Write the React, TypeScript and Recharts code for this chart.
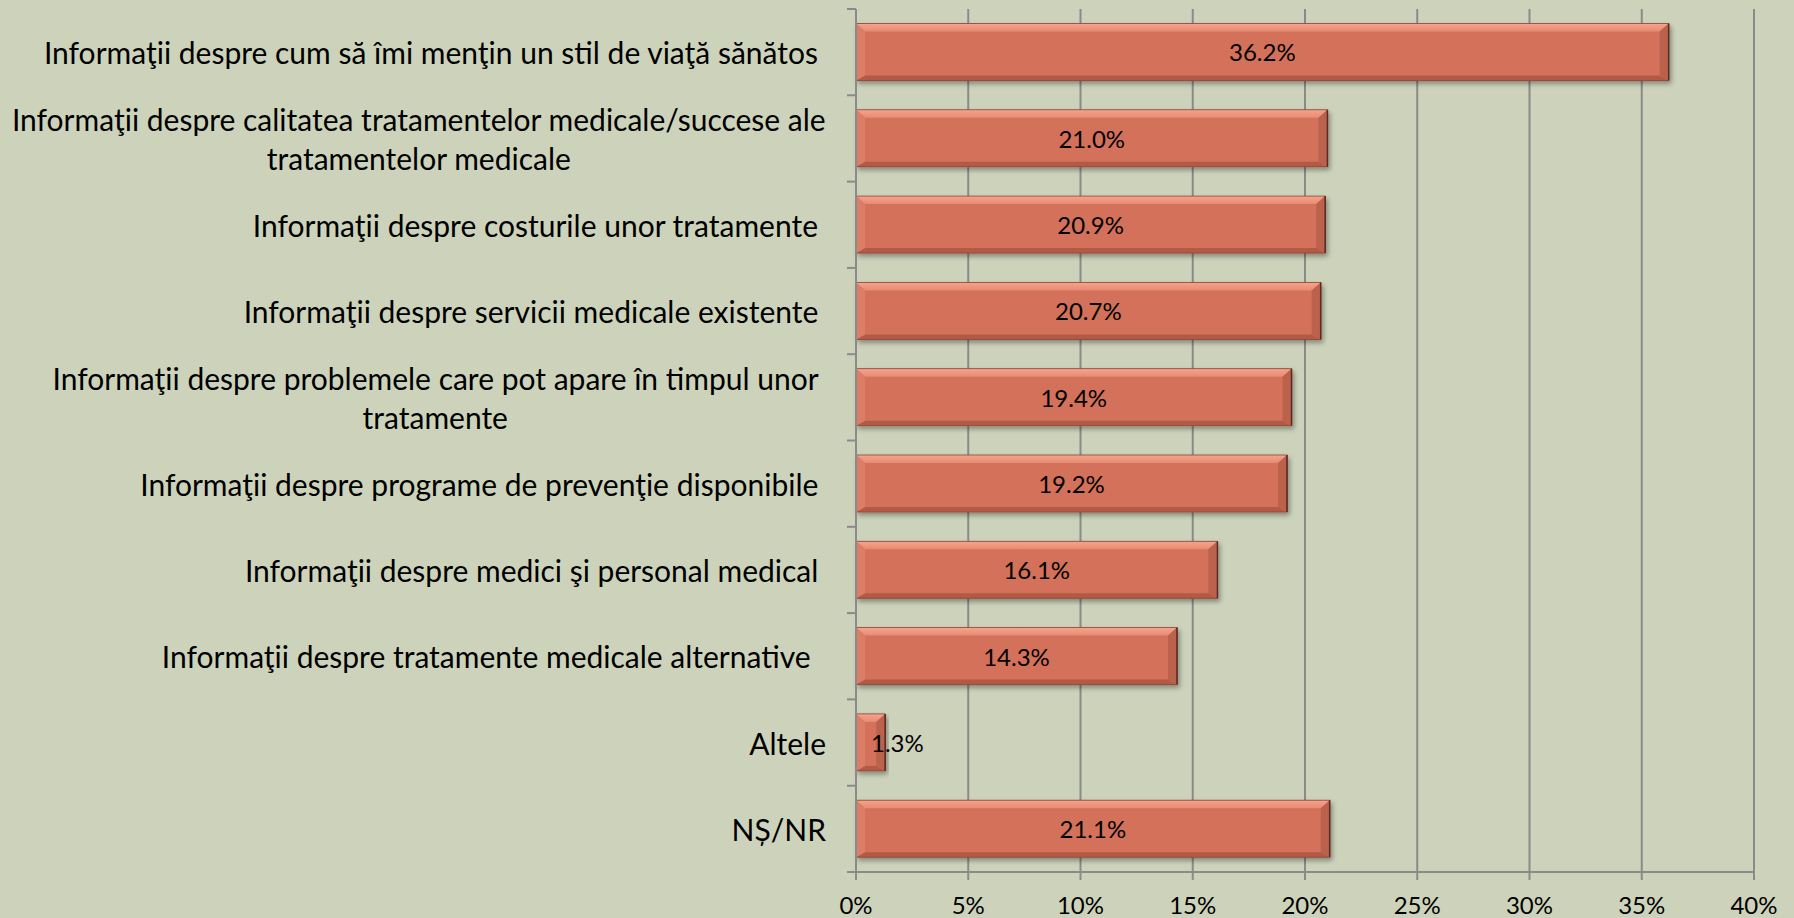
import { Bar, BarChart, CartesianGrid, LabelList, XAxis, YAxis } from "recharts";

const categories = [
  "Informaţii despre cum să îmi menţin un stil de viaţă sănătos ",
  "Informaţii despre calitatea tratamentelor medicale/succese ale\ntratamentelor medicale",
  "Informaţii despre costurile unor tratamente ",
  "Informaţii despre servicii medicale existente ",
  "Informaţii despre problemele care pot apare în timpul unor \ntratamente ",
  "Informaţii despre programe de prevenţie disponibile ",
  "Informaţii despre medici şi personal medical ",
  "Informaţii despre tratamente medicale alternative  ",
  "Altele",
  "NȘ/NR",
];
const shares = [36.2, 21.0, 20.9, 20.7, 19.4, 19.2, 16.1, 14.3, 1.3, 21.1];
const xTicks = [0, 5, 10, 15, 20, 25, 30, 35, 40];

const data = categories.map((name, i) => ({ name, value: shares[i] }));

const W = 1794;
const H = 918;
const MARGIN = { top: 9, right: 40, left: 0, bottom: 0 };
const X_AXIS_H = 46;
const Y_AXIS_W = 856;
const BAND = (H - MARGIN.top - MARGIN.bottom - X_AXIS_H) / categories.length;
const FONT = "Lato, 'Open Sans', sans-serif";
const CAT_SIZE = 30;
const LABEL_SIZE = 24;
const GRID = "#8a8a8a";

const ctx = typeof document !== "undefined" ? document.createElement("canvas").getContext("2d") : null;
function textWidth(s: string, size: number) {
  if (!ctx) return s.length * size * 0.5;
  ctx.font = `${size}px Lato`;
  return ctx.measureText(s).width;
}

function CategoryTick(props: any) {
  const { x, y, payload, index } = props;
  const lines = String(payload.value).split("\n");
  const block = Math.max(...lines.map((l) => textWidth(l, CAT_SIZE)));
  const cx = x - block / 2;
  const lh = 39;
  const y0 = y - ((lines.length - 1) * lh) / 2;
  const axisX = x + 30;
  return (
    <g>
      <line x1={axisX - 9} x2={axisX} y1={y - BAND / 2} y2={y - BAND / 2} stroke={GRID} strokeWidth={2} />
      {index === categories.length - 1 && (
        <line x1={axisX - 9} x2={axisX} y1={y + BAND / 2} y2={y + BAND / 2} stroke={GRID} strokeWidth={2} />
      )}
      {lines.map((l, i) => (
        <text
          key={i}
          x={cx}
          y={y0 + i * lh}
          textAnchor="middle"
          dominantBaseline="central"
          fontFamily={FONT}
          fontSize={CAT_SIZE}
          fill="#000"
          style={{ whiteSpace: "pre" }}
        >
          {l}
        </text>
      ))}
    </g>
  );
}

function BevelBar(props: any) {
  const { x, y, width, height } = props;
  if (!width || width <= 0) return null;
  const bt = Math.min(8, height / 3);
  const bb = Math.min(5, height / 3);
  const bs = Math.min(9, width / 3);
  const r = x + width;
  const b = y + height;
  return (
    <g filter="url(#barShadow)">
      <rect x={x} y={y} width={width} height={height} fill="#d3715a" />
      <polygon points={`${x},${y} ${r},${y} ${r - bs},${y + bt} ${x + bs},${y + bt}`} fill="url(#bevelTop)" />
      <polygon points={`${x},${b} ${r},${b} ${r - bs},${b - bb} ${x + bs},${b - bb}`} fill="#b35a46" />
      <polygon points={`${x},${y} ${x + bs},${y + bt} ${x + bs},${b - bb} ${x},${b}`} fill="#dc7d65" />
      <polygon points={`${r},${y} ${r - bs},${y + bt} ${r - bs},${b - bb} ${r},${b}`} fill="#bb624d" />
      <rect x={x} y={y} width={width} height={height} fill="none" stroke="#8c4636" strokeWidth={0.8} />
      <line x1={r} x2={r} y1={y} y2={b} stroke="#5a2a20" strokeWidth={1.5} />
    </g>
  );
}

function ValueLabel(props: any) {
  const vb = props.viewBox || props;
  const { x, y, width, height } = vb;
  const text = `${Number(props.value).toFixed(1)}%`;
  const w = textWidth(text, LABEL_SIZE);
  const cx = Math.max(x + width / 2, x + 15 + w / 2);
  return (
    <text
      x={cx}
      y={y + height / 2}
      textAnchor="middle"
      dominantBaseline="central"
      fontFamily={FONT}
      fontSize={LABEL_SIZE}
      fill="#000"
    >
      {text}
    </text>
  );
}

export default function App() {
  return (
    <div style={{ width: W, height: H, background: "#cdd3bb" }}>
      <style>{"body{margin:0}"}</style>
      <svg width={0} height={0} style={{ position: "absolute" }}>
        <defs>
          <linearGradient id="bevelTop" x1="0" y1="0" x2="0" y2="1">
            <stop offset="0%" stopColor="#f6a48e" />
            <stop offset="100%" stopColor="#e88a72" />
          </linearGradient>
          <filter id="barShadow" x="-5%" y="-20%" width="115%" height="160%">
            <feDropShadow dx={2} dy={3} stdDeviation={2.5} floodColor="#000" floodOpacity={0.35} />
          </filter>
        </defs>
      </svg>
      <BarChart
        layout="vertical"
        width={W}
        height={H}
        data={data}
        margin={MARGIN}
        barCategoryGap="16.8%"
      >
        <CartesianGrid horizontal={false} stroke={GRID} strokeWidth={2} />
        <XAxis
          type="number"
          domain={[0, 40]}
          ticks={xTicks}
          interval={0}
          height={X_AXIS_H}
          tickFormatter={(v) => `${v}%`}
          axisLine={{ stroke: GRID, strokeWidth: 2 }}
          tickLine={{ stroke: GRID, strokeWidth: 2 }}
          tickSize={8}
          tickMargin={17}
          tick={{ fill: "#000", fontSize: LABEL_SIZE, fontFamily: FONT }}
        />
        <YAxis
          type="category"
          dataKey="name"
          width={Y_AXIS_W}
          interval={0}
          axisLine={{ stroke: GRID, strokeWidth: 2 }}
          tickLine={false}
          tickSize={8}
          tickMargin={22}
          tick={<CategoryTick />}
        />
        <Bar dataKey="value" shape={<BevelBar />} isAnimationActive={false}>
          <LabelList dataKey="value" content={<ValueLabel />} />
        </Bar>
      </BarChart>
    </div>
  );
}
